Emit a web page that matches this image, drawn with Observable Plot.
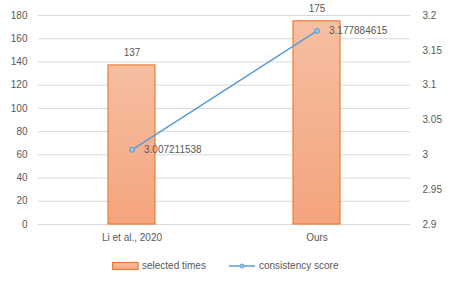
<!DOCTYPE html>
<html>
<head>
<meta charset="utf-8">
<script src="https://cdn.jsdelivr.net/npm/d3@7"></script>
<script src="https://cdn.jsdelivr.net/npm/@observablehq/plot@0.6"></script>
<style>
  html, body { margin: 0; padding: 0; background: #fff; }
  #wrap { position: relative; width: 452px; height: 286px; font-family: "Liberation Sans", Arial, sans-serif; }
  #legend { position: absolute; left: 0; top: 250px; width: 452px; height: 36px; font-size: 10px; color: #595959; }
  .item { position: absolute; top: 10px; display: flex; align-items: center; white-space: nowrap; }
</style>
</head>
<body>
<div id="wrap"><div id="chart"></div><div id="legend"></div></div>
<script>
const categories = ["Li et al., 2020", "Ours"];
const selectedTimes = [137, 175];
const consistencyScore = [3.007211538, 3.177884615];
const consistencyLabels = ["3.007211538", "3.177884615"];
const leftTicks = [0, 20, 40, 60, 80, 100, 120, 140, 160, 180];
const rightTicks = [2.9, 2.95, 3, 3.05, 3.1, 3.15, 3.2];
const rightTickLabels = ["2.9", "2.95", "3", "3.05", "3.1", "3.15", "3.2"];
const seriesNames = ["selected times", "consistency score"];

// secondary axis mapped into primary y domain
const rMin = 2.9, rMax = 3.2, lMax = 180;
const toLeft = v => (v - rMin) / (rMax - rMin) * lMax;

const rows = categories.map((c, i) => ({
  cat: c, times: selectedTimes[i], score: consistencyScore[i],
  scoreY: toLeft(consistencyScore[i]), scoreLabel: consistencyLabels[i]
}));

const textColor = "#595959";
const plot = Plot.plot({
  width: 452,
  height: 250,
  marginLeft: 38,
  marginRight: 42,
  marginTop: 15,
  marginBottom: 26,
  style: { fontFamily: "Liberation Sans, Arial, sans-serif", fontSize: "10px", color: textColor, background: "#fff" },
  x: { domain: categories, paddingInner: 0.747, paddingOuter: 0.374, label: null },
  y: { domain: [0, lMax], label: null },
  marks: [
    Plot.gridY(leftTicks, { stroke: "#d9d9d9", strokeOpacity: 1 }),
    Plot.axisY(leftTicks, { anchor: "left", tickSize: 0, tickPadding: 11, label: null, fill: textColor }),
    Plot.axisY(rightTicks.map(toLeft), { anchor: "right", tickSize: 0, tickPadding: 12, label: null, fill: textColor,
      textAnchor: "start",
      tickFormat: (d, i) => rightTickLabels[i] }),
    Plot.axisX({ tickSize: 0, tickPadding: 9, label: null, fill: textColor }),
    Plot.barY(rows, { x: "cat", y: "times", fill: "url(#barGrad)", stroke: "#ed7d31", strokeWidth: 1.2 }),
    Plot.text(rows, { x: "cat", y: "times", text: d => String(d.times), dy: -13, fill: textColor }),
    Plot.line(rows, { x: "cat", y: "scoreY", stroke: "#5b9bd5", strokeWidth: 1.5 }),
    Plot.dot(rows, { x: "cat", y: "scoreY", r: 2.5, stroke: "#5b9bd5", fill: "#9dc3e6", strokeWidth: 1 }),
    Plot.text(rows, { x: "cat", y: "scoreY", text: "scoreLabel", dx: 12, textAnchor: "start", fill: textColor })
  ]
});

const defs = d3.select(plot).insert("defs", ":first-child");
const g = defs.append("linearGradient").attr("id", "barGrad").attr("x1", 0).attr("y1", 0).attr("x2", 0).attr("y2", 1);
g.append("stop").attr("offset", "0%").attr("stop-color", "#f6bfa2");
g.append("stop").attr("offset", "100%").attr("stop-color", "#f4a47e");

document.getElementById("chart").appendChild(plot);

const legend = document.getElementById("legend");
const items = [
  { left: 112, name: seriesNames[0], type: "bar" },
  { left: 229, name: seriesNames[1], type: "line" }
];
items.forEach(it => {
  const div = document.createElement("div");
  div.className = "item";
  div.style.left = it.left + "px";
  const sw = it.type === "bar"
    ? `<svg width="27" height="10"><rect x="0.6" y="1.5" width="25.5" height="7" fill="url(#lg)" stroke="#ed7d31" stroke-width="1.2"/><defs><linearGradient id="lg" x1="0" y1="0" x2="0" y2="1"><stop offset="0" stop-color="#f6bfa2"/><stop offset="1" stop-color="#f4a47e"/></linearGradient></defs></svg>`
    : `<svg width="27" height="10"><line x1="0" y1="5" x2="26" y2="5" stroke="#5b9bd5" stroke-width="1.5"/><circle cx="13" cy="5" r="2" fill="#9dc3e6" stroke="#5b9bd5"/></svg>`;
  div.innerHTML = sw + `<span style="margin-left:3px">${it.name}</span>`;
  legend.appendChild(div);
});
</script>
</body>
</html>
